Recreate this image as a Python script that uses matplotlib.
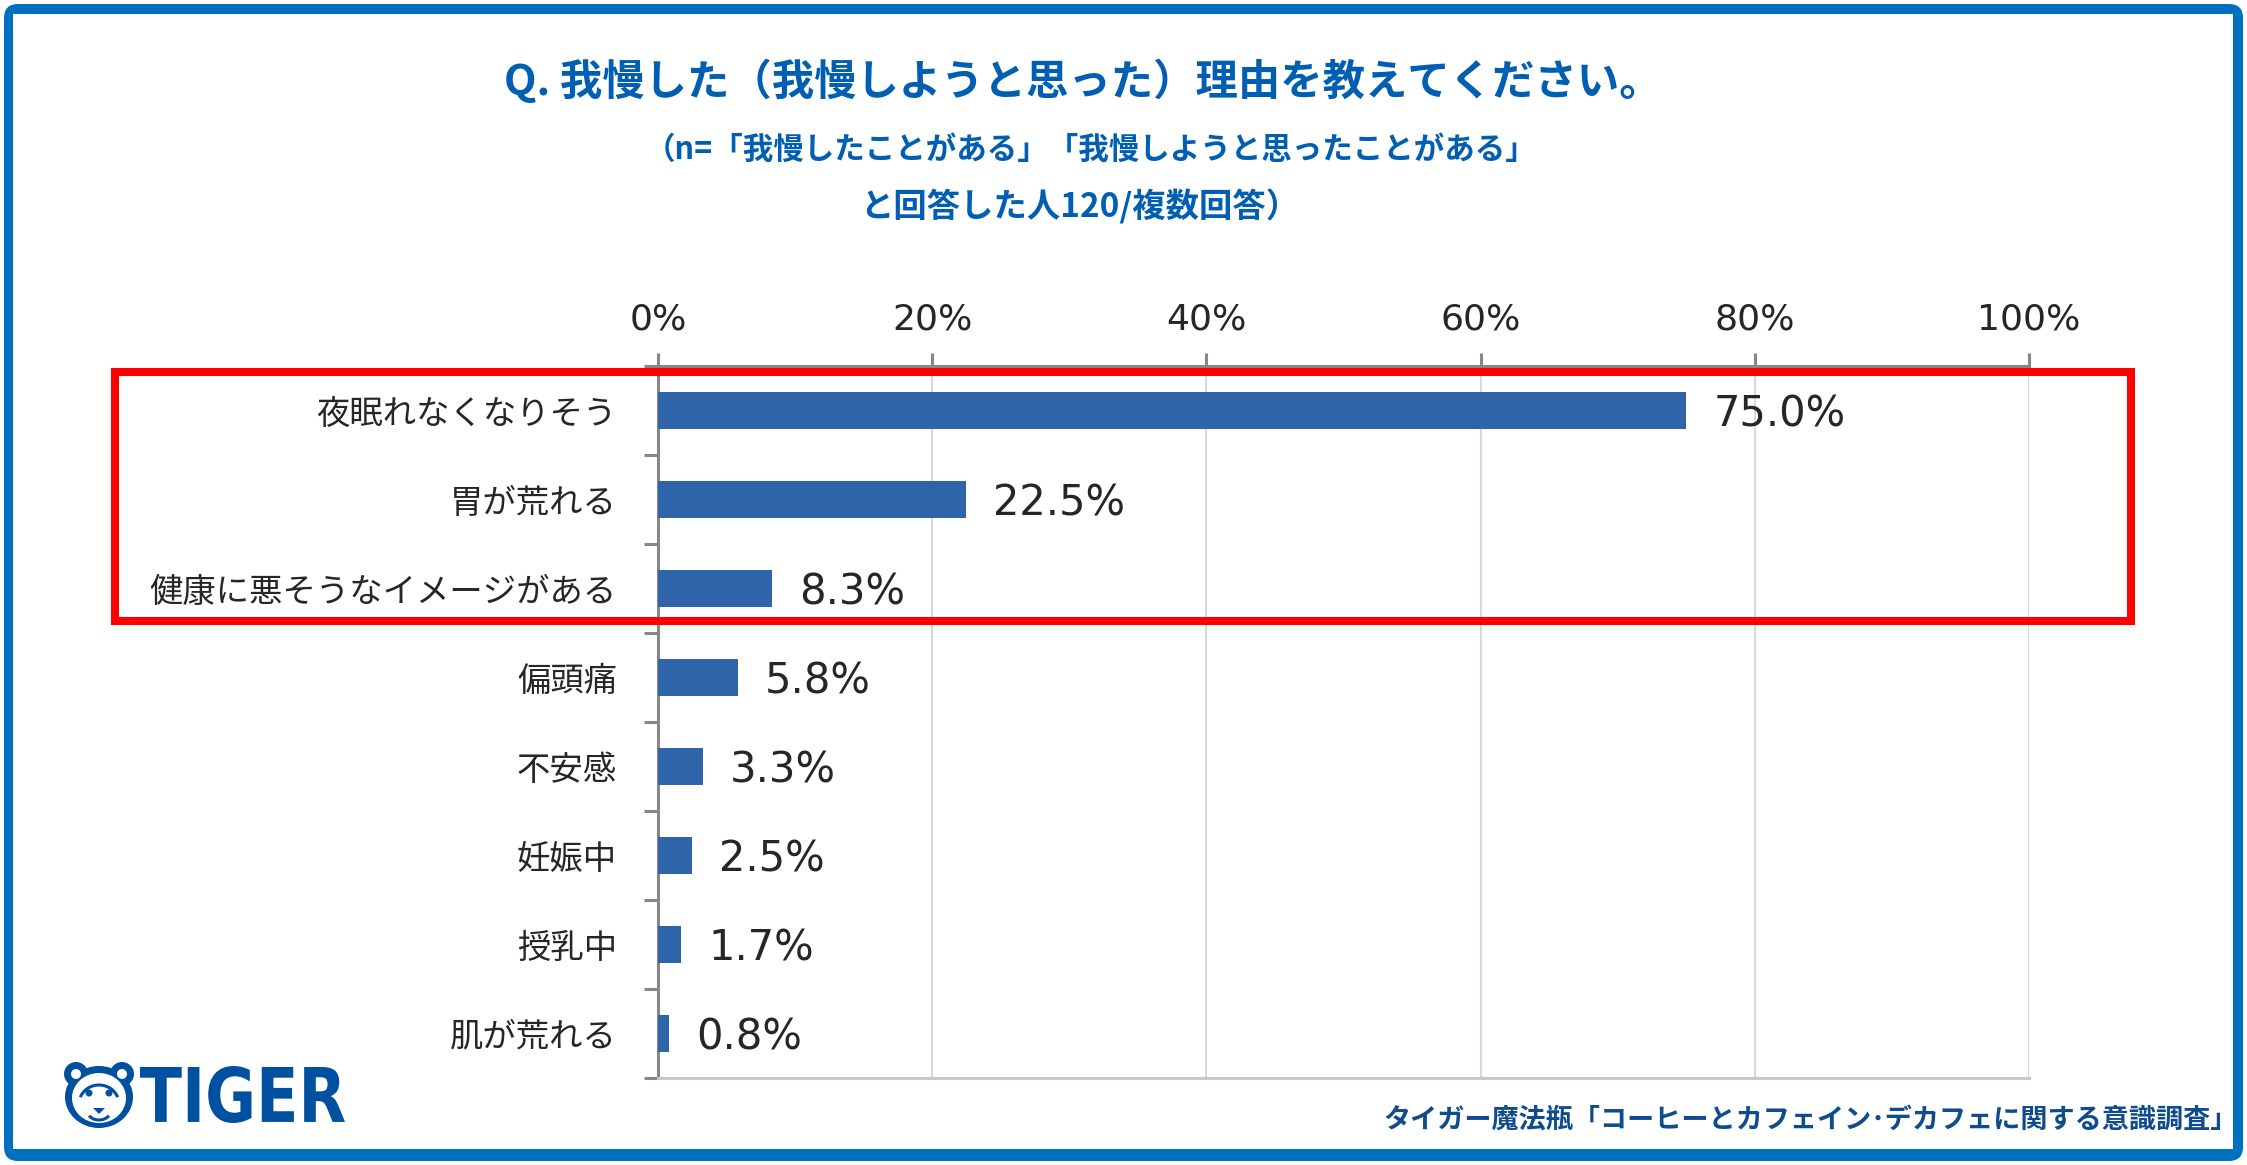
import numpy as np
import matplotlib
matplotlib.use("Agg")
import matplotlib.pyplot as plt
from matplotlib.patches import Rectangle, FancyBboxPatch, Ellipse, Circle, Arc, Polygon, PathPatch
from matplotlib.textpath import TextPath
from matplotlib.font_manager import FontProperties
from matplotlib.transforms import Affine2D

plt.rcParams['font.family'] = ['Noto Sans CJK JP', 'DejaVu Sans']

# data
categories = ['夜眠れなくなりそう', '胃が荒れる', '健康に悪そうなイメージがある', '偏頭痛',
              '不安感', '妊娠中', '授乳中', '肌が荒れる']
values = [75.0, 22.5, 8.3, 5.8, 3.3, 2.5, 1.7, 0.8]
x_ticks = [0, 20, 40, 60, 80, 100]
x_tick_labels = ['0%', '20%', '40%', '60%', '80%', '100%']

title = 'Q. 我慢した（我慢しようと思った）理由を教えてください。'
subtitle1 = '（n=「我慢したことがある」「我慢しようと思ったことがある」'
subtitle2 = 'と回答した人120/複数回答）'
footer = 'タイガー魔法瓶「コーヒーとカフェイン･デカフェに関する意識調査」'

W, H = 2247, 1165
DPI = 100
BLUE_BORDER = '#0070C0'
BAR = '#2E64A8'
TITLE_BLUE = '#005EB3'
LOGO_BLUE = '#0050A2'

fig = plt.figure(figsize=(W / DPI, H / DPI), dpi=DPI, facecolor='white')

# pixel coords (top-left origin) -> figure fraction
px = Affine2D().scale(1.0 / W, -1.0 / H).translate(0, 1) + fig.transFigure

# frame
fig.add_artist(FancyBboxPatch((4, 4), W - 8, H - 8, boxstyle='round,pad=0,rounding_size=14',
                              facecolor=BLUE_BORDER, edgecolor='none', transform=px, zorder=-5))
fig.add_artist(Rectangle((13, 14), W - 27, H - 30, facecolor='white', edgecolor='none',
                         transform=px, zorder=-4))

# ---- main axes
ax_left, ax_right, ax_top, ax_bottom = 658, 2029, 366, 1078
ax = fig.add_axes([ax_left / W, 1 - ax_bottom / H, (ax_right - ax_left) / W, (ax_bottom - ax_top) / H])
ypos = np.arange(len(categories))
ax.barh(ypos, values, height=0.42, color=BAR, zorder=3)
ax.set_xlim(0, 100)
ax.set_ylim(len(categories) - 0.5, -0.5)

ax.xaxis.tick_top()
ax.set_xticks(x_ticks)
ax.set_xticklabels(x_tick_labels, family='DejaVu Sans', fontsize=26, color='#262626')
ax.tick_params(axis='x', which='major', direction='out', length=9.5, width=2.2,
               color='#878787', pad=12)
ax.set_yticks(ypos)
ax.set_yticklabels(categories, fontsize=24, color='#262626')
ax.tick_params(axis='y', which='major', length=0, pad=29.5)
ax.set_yticks(np.arange(-0.5, len(categories) + 0.5, 1), minor=True)
ax.tick_params(axis='y', which='minor', direction='out', length=10, width=2.2, color='#878787')

ax.grid(axis='x', color='#D9D9D9', linewidth=1.5, zorder=0)
ax.set_axisbelow(True)
for side in ['top', 'left']:
    ax.spines[side].set_color('#878787')
    ax.spines[side].set_linewidth(2.2)
ax.spines['bottom'].set_color('#C8C8C8')
ax.spines['bottom'].set_linewidth(2.2)
ax.spines['right'].set_visible(False)

for y, v in zip(ypos, values):
    ax.annotate(f'{v:.1f}%', xy=(v, y), xytext=(27, -4), textcoords='offset pixels',
                ha='left', va='center', family='DejaVu Sans', fontsize=30, color='#262626')

# highlight box
fig.add_artist(Rectangle((115, 372), 2131 - 115, 621 - 372, facecolor='none',
                         edgecolor='#FF0000', linewidth=5.8, transform=px, zorder=10))

# ---- titles
fig.text(1083 / W, 1 - 82 / H, title, ha='center', va='center', fontsize=30.5,
         fontweight='bold', color=TITLE_BLUE)
fig.text(1091 / W, 1 - 150 / H, subtitle1, ha='center', va='center', fontsize=22,
         fontweight='bold', color=TITLE_BLUE)
fig.text(1080 / W, 1 - 207 / H, subtitle2, ha='center', va='center', fontsize=24,
         fontweight='bold', color=TITLE_BLUE)
fig.text(2238 / W, 1 - 1120 / H, footer, ha='right', va='center', fontsize=19.5,
         fontweight='bold', color='#0F4C8E')

# ---- logo: face
face = [
    Circle((76, 1074), 12, facecolor=LOGO_BLUE, edgecolor='none'),
    Circle((122, 1074), 12, facecolor=LOGO_BLUE, edgecolor='none'),
    Ellipse((99, 1097), 68, 62, facecolor=LOGO_BLUE, edgecolor='none'),
    Circle((76, 1074), 5, facecolor='white', edgecolor='none'),
    Circle((122, 1074), 5, facecolor='white', edgecolor='none'),
    Ellipse((99, 1098), 54, 50, facecolor='white', edgecolor='none'),
    Arc((99, 1104), 40, 38, theta1=200, theta2=340, color=LOGO_BLUE, linewidth=2.2),
    Circle((89, 1093), 3.5, facecolor=LOGO_BLUE, edgecolor='none'),
    Circle((109, 1093), 3.5, facecolor=LOGO_BLUE, edgecolor='none'),
    Polygon([(93, 1108), (105, 1108), (99, 1114)], closed=True, facecolor=LOGO_BLUE, edgecolor='none'),
    Arc((99, 1112), 22, 16, theta1=20, theta2=160, color=LOGO_BLUE, linewidth=2.2),
]
for p in face:
    p.set_transform(px)
    p.set_zorder(5)
    fig.add_artist(p)

# logo: word mark stretched into its box
tp = TextPath((0, 0), 'TIGER', size=1, prop=FontProperties(family='DejaVu Sans', weight='bold'))
ext = tp.get_extents()
bx0, bx1, by0, by1 = 140, 345, 1066, 1123
sx = (bx1 - bx0) / ext.width
sy = (by1 - by0) / ext.height
word_tr = Affine2D().translate(-ext.x0, -ext.y0).scale(sx, -sy).translate(bx0, by1) + px
fig.add_artist(PathPatch(tp, facecolor=LOGO_BLUE, edgecolor='none', transform=word_tr, zorder=5))

fig.savefig('out.png', dpi=DPI, facecolor='white')
